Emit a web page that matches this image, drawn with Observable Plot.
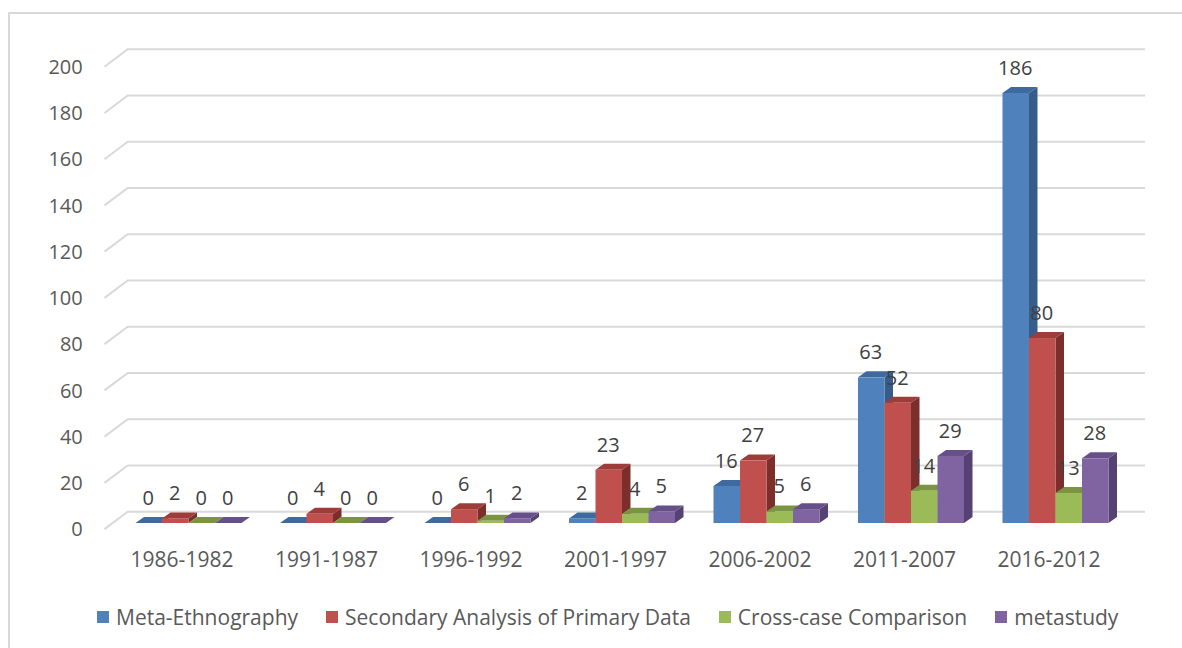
<!DOCTYPE html>
<html>
<head>
<meta charset="utf-8">
<script src="https://cdn.jsdelivr.net/npm/d3@7"></script>
<script src="https://cdn.jsdelivr.net/npm/@observablehq/plot@0.6"></script>
<style>
  html, body { margin: 0; padding: 0; background: #fff; }
  #wrap { position: relative; width: 1182px; height: 648px; overflow: hidden; font-family: "Open Sans", sans-serif; }
  #frame { position: absolute; left: 8px; top: 12px; width: 1300px; height: 700px; border-left: 2px solid #d9d9d9; border-top: 2px solid #d9d9d9; box-sizing: border-box; }
  #chart { position: absolute; left: 0; top: 0; }
  #legend { position: absolute; left: 97px; top: 603px; display: flex; align-items: center; font-size: 21px; color: #595959; white-space: nowrap; }
  .item { display: flex; align-items: center; margin-right: 28px; }
  .sw { width: 12px; height: 12px; margin-right: 7px; }
</style>
</head>
<body>
<div id="wrap">
  <div id="frame"></div>
  <div id="chart"></div>
  <div id="legend"></div>
</div>
<script>
const categories = ["1986-1982", "1991-1987", "1996-1992", "2001-1997", "2006-2002", "2011-2007", "2016-2012"];
const seriesNames = ["Meta-Ethnography", "Secondary Analysis of Primary Data", "Cross-case Comparison", "metastudy"];
const metaEthnography = [0, 0, 0, 2, 16, 63, 186];
const secondaryAnalysis = [2, 4, 6, 23, 27, 52, 80];
const crossCase = [0, 0, 1, 4, 5, 14, 13];
const metastudy = [0, 0, 2, 5, 6, 29, 28];
const yTicks = [0, 20, 40, 60, 80, 100, 120, 140, 160, 180, 200];

const frontColors = ["#4F81BD", "#C0504D", "#9BBB59", "#8064A2"];
const topColors = ["#3F6A9F", "#9E3C39", "#7A9444", "#65508A"];
const sideColors = ["#375C8A", "#7C2E2C", "#6A8339", "#554272"];

const seriesValues = [metaEthnography, secondaryAnalysis, crossCase, metastudy];
const groupSpan = 0.7336;
const bw = groupSpan / 4;
const rows = [];
categories.forEach((cat, i) => {
  seriesValues.forEach((vals, s) => {
    const x1 = i - groupSpan / 2 + s * bw;
    rows.push({cat, series: seriesNames[s], s, value: vals[i], x1, x2: x1 + bw, xc: x1 + bw / 2});
  });
});

const DX = 8.5, DY = 6;

function grid(index, scales) {
  const {x, y} = scales;
  const g = d3.create("svg:g");
  const xl = x(-0.5);
  const xr = x(6.5);
  for (const v of yTicks) {
    const yy = y(v);
    g.append("path")
      .attr("d", `M${xl - 11.75},${yy + 6.1}L${xl + 11.45},${yy - 11.3}L${xr + 17.25},${yy - 11.3}`)
      .attr("fill", "none")
      .attr("stroke", "#d9d9d9")
      .attr("stroke-width", 2);
  }
  return g.node();
}

function depth(index, scales) {
  const {x, y} = scales;
  const g = d3.create("svg:g");
  const yb = y(0);
  for (const d of rows) {
    const xl = x(d.x1), xr = x(d.x2), yt = y(d.value);
    g.append("polygon")
      .attr("points", [[xr, yt], [xr + DX, yt - DY], [xr + DX, yb - DY], [xr, yb]].map(p => p.join(",")).join(" "))
      .attr("fill", sideColors[d.s]);
    g.append("polygon")
      .attr("points", [[xl, yt], [xr, yt], [xr + DX, yt - DY], [xl + DX, yt - DY]].map(p => p.join(",")).join(" "))
      .attr("fill", topColors[d.s]);
  }
  return g.node();
}

const chart = Plot.plot({
  width: 1182,
  height: 590,
  marginLeft: 116.25,
  marginRight: 54.25,
  marginTop: 60.6,
  marginBottom: 67,
  style: {fontFamily: "Open Sans, sans-serif", fontSize: "20px", background: "transparent", overflow: "visible"},
  x: {domain: [-0.5, 6.5], axis: null},
  y: {domain: [0, 200], axis: null},
  marks: [
    grid,
    depth,
    Plot.rectY(rows, {x1: "x1", x2: "x2", y1: 0, y2: "value", fill: d => frontColors[d.s]}),
    Plot.text(yTicks, {x: -0.5, y: d => d, text: d => String(d), textAnchor: "end", dx: -34, dy: 6.5, fill: "#595959", fontSize: 20}),
    Plot.text(categories, {x: (d, i) => i, y: 0, text: d => d, dx: -7, dy: 37, fill: "#595959", fontSize: 21}),
    Plot.text(rows, {x: "xc", y: "value", text: d => String(d.value), dx: -1, dy: -25, fill: "#404040", fontSize: 20})
  ]
});
document.getElementById("chart").appendChild(chart);

const legend = document.getElementById("legend");
seriesNames.forEach((name, s) => {
  const item = document.createElement("div");
  item.className = "item";
  const sw = document.createElement("div");
  sw.className = "sw";
  sw.style.background = frontColors[s];
  const label = document.createElement("span");
  label.textContent = name;
  item.appendChild(sw);
  item.appendChild(label);
  legend.appendChild(item);
});
</script>
</body>
</html>
